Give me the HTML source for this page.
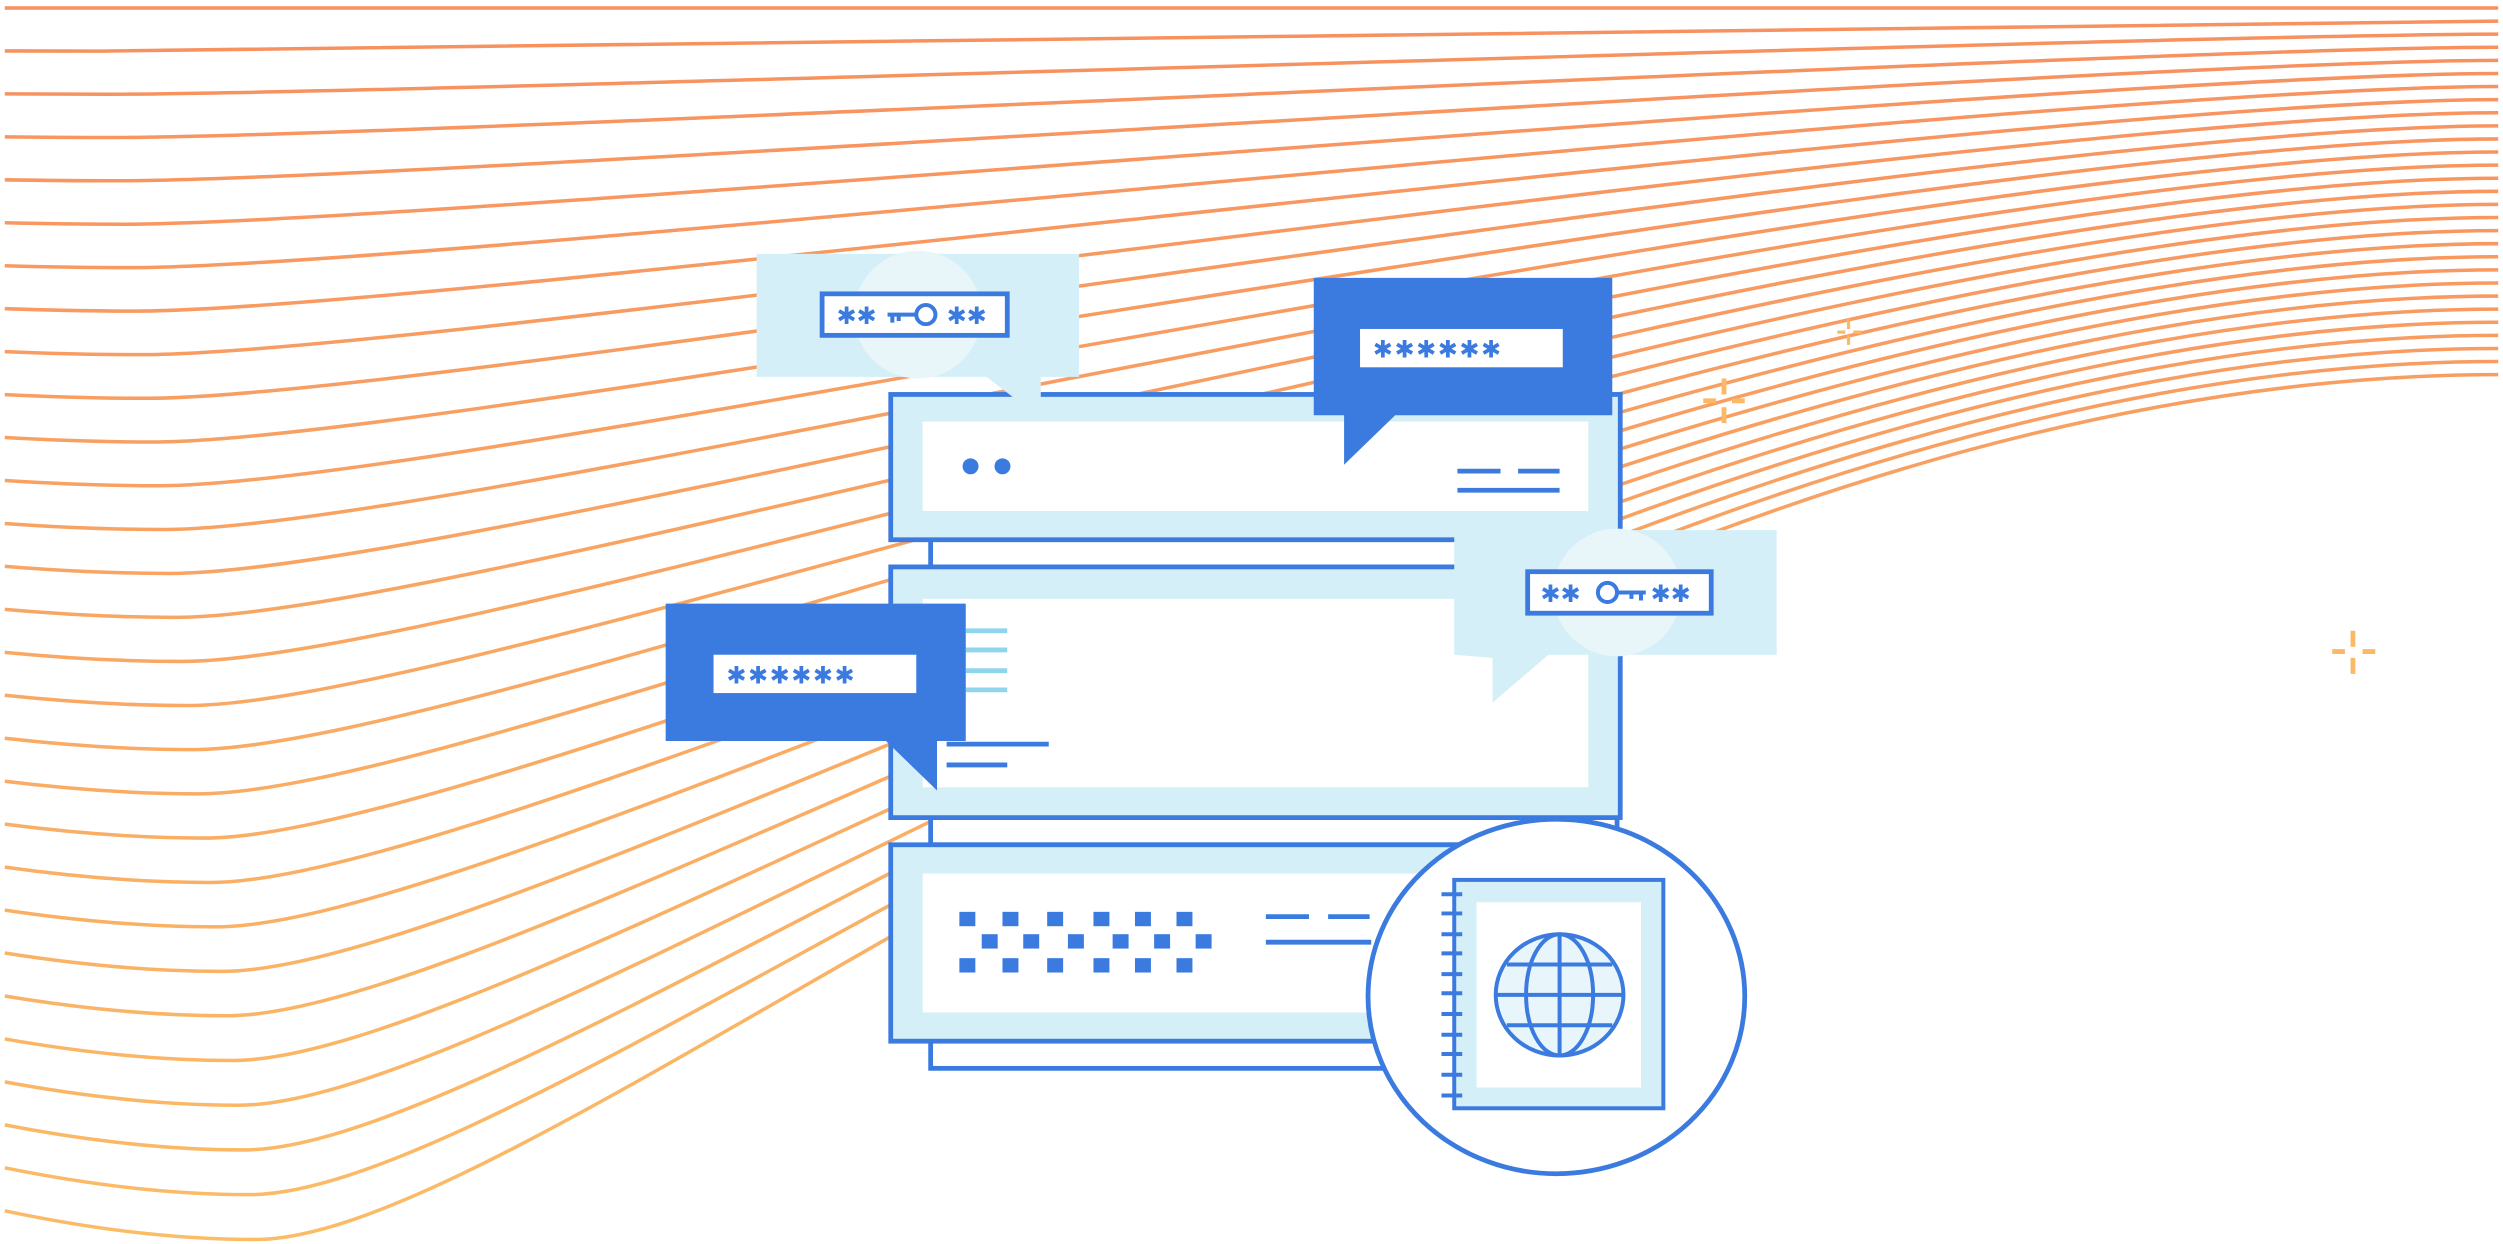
<!DOCTYPE html>
<html><head><meta charset="utf-8">
<style>
html,body{margin:0;padding:0;background:#fff;overflow:hidden}
svg{display:block}
.ast{font-family:"DejaVu Sans",sans-serif;font-weight:bold;fill:#3b7be0;font-size:15px}
</style></head>
<body>
<svg width="2503" height="1244" viewBox="0 0 1568 779" preserveAspectRatio="none" xmlns="http://www.w3.org/2000/svg">
<defs>
<linearGradient id="lg" gradientUnits="userSpaceOnUse" x1="0" y1="0" x2="0" y2="780">
<stop offset="0" stop-color="#f7905f"/><stop offset="1" stop-color="#fbbc66"/>
</linearGradient>
</defs>
<g fill="none" stroke="url(#lg)" stroke-width="2.2">
<path d="M3 5 Q33 5 60 5 C250 5 1400 5 1565 5"/>
<path d="M3 31.9 Q35 32 63.6 32 C253.6 32 1383.9 13.2 1565 13.2"/>
<path d="M3 58.8 Q37 59 67.1 59 C257.1 59 1367.9 21.4 1565 21.4"/>
<path d="M3 85.7 Q39 86.1 70.7 86.1 C260.7 86.1 1351.8 29.6 1565 29.6"/>
<path d="M3 112.6 Q41 113.2 74.3 113.2 C264.3 113.2 1335.7 37.8 1565 37.8"/>
<path d="M3 139.5 Q43 140.4 77.9 140.4 C267.9 140.4 1319.6 46 1565 46"/>
<path d="M3 166.4 Q45 167.6 81.4 167.6 C271.4 167.6 1303.6 54.2 1565 54.2"/>
<path d="M3 193.3 Q47 194.8 85 194.8 C275 194.8 1287.5 62.4 1565 62.4"/>
<path d="M3 220.2 Q49 222.1 88.6 222.1 C278.6 222.1 1271.4 70.6 1565 70.6"/>
<path d="M3 247.1 Q51 249.4 92.1 249.4 C282.1 249.4 1255.4 78.8 1565 78.8"/>
<path d="M3 274 Q53 276.8 95.7 276.8 C285.7 276.8 1239.3 87 1565 87"/>
<path d="M3 300.9 Q55 304.2 99.3 304.2 C289.3 304.2 1223.2 95.2 1565 95.2"/>
<path d="M3 327.8 Q57 331.6 102.9 331.6 C292.9 331.6 1207.1 103.4 1565 103.4"/>
<path d="M3 354.7 Q59 359.1 106.4 359.1 C296.4 359.1 1191.1 111.6 1565 111.6"/>
<path d="M3 381.6 Q60 386.6 110 386.6 C300 386.6 1175 119.8 1565 119.8"/>
<path d="M3 408.5 Q62 414.2 113.6 414.2 C303.6 414.2 1158.9 128 1565 128"/>
<path d="M3 435.4 Q64 441.8 117.1 441.8 C307.1 441.8 1142.9 136.2 1565 136.2"/>
<path d="M3 462.3 Q66 469.4 120.7 469.4 C310.7 469.4 1126.8 144.4 1565 144.4"/>
<path d="M3 489.2 Q68 497.1 124.3 497.1 C314.3 497.1 1110.7 152.6 1565 152.6"/>
<path d="M3 516.1 Q70 524.8 127.9 524.8 C317.9 524.8 1094.6 160.8 1565 160.8"/>
<path d="M3 543 Q72 552.6 131.4 552.6 C321.4 552.6 1078.6 169 1565 169"/>
<path d="M3 569.9 Q74 580.4 135 580.4 C325 580.4 1062.5 177.2 1565 177.2"/>
<path d="M3 596.8 Q76 608.3 138.6 608.3 C328.6 608.3 1046.4 185.4 1565 185.4"/>
<path d="M3 623.7 Q78 636.1 142.1 636.1 C332.1 636.1 1030.4 193.6 1565 193.6"/>
<path d="M3 650.6 Q80 664.1 145.7 664.1 C335.7 664.1 1014.3 201.8 1565 201.8"/>
<path d="M3 677.5 Q82 692.1 149.3 692.1 C339.3 692.1 998.2 210 1565 210"/>
<path d="M3 704.4 Q84 720.1 152.9 720.1 C342.9 720.1 982.1 218.2 1565 218.2"/>
<path d="M3 731.3 Q86 748.1 156.4 748.1 C346.4 748.1 966.1 226.4 1565 226.4"/>
<path d="M3 758.2 Q88 776.2 160 776.2 C350 776.2 950 234.6 1565 234.6"/>
</g>
<!-- sparkles -->
<g stroke="#fbb866" stroke-width="3" fill="none">
<path d="M1080 237v10M1080 255v10M1067 251h8M1085 251h8"/>
<path d="M1474 395v10M1474 412v10M1461 408h8M1480 408h8"/>
<path d="M1158 200v6M1158 210v6M1151 208h5M1161 208h5" stroke-width="2"/>
</g>
<!-- back rects -->
<rect x="583" y="330" width="430" height="25" fill="#fff" stroke="#3b7be0" stroke-width="3"/>
<rect x="583" y="505" width="430" height="24" fill="#fff" stroke="#3b7be0" stroke-width="3"/>
<rect x="583" y="645" width="330" height="24" fill="#fff" stroke="#3b7be0" stroke-width="3"/>
<!-- top panel -->
<rect x="558" y="247" width="457" height="91" fill="#d4eff7" stroke="#3b7be0" stroke-width="3"/>
<rect x="578" y="264" width="417" height="56" fill="#fff"/>
<circle cx="608" cy="292" r="5" fill="#3b7be0"/><circle cx="628" cy="292" r="5" fill="#3b7be0"/>
<g stroke="#3b7be0" stroke-width="3"><path d="M913 295h27M951 295h26M913 307h64"/></g>
<!-- middle panel -->
<rect x="558" y="355" width="457" height="157" fill="#d4eff7" stroke="#3b7be0" stroke-width="3"/>
<rect x="578" y="375" width="417" height="118" fill="#fff"/>
<g stroke="#8fd5ec" stroke-width="3"><path d="M605 395h26M605 407h26M605 420h26M605 432h26"/></g>
<g stroke="#3b7be0" stroke-width="3"><path d="M593 466h64M593 479h38"/></g>
<!-- bottom panel -->
<rect x="558" y="529" width="400" height="123" fill="#d4eff7" stroke="#3b7be0" stroke-width="3"/>
<rect x="578" y="547" width="380" height="87" fill="#fff"/>
<g fill="#3b7be0">
<rect x="601" y="571" width="10" height="9"/><rect x="628" y="571" width="10" height="9"/><rect x="656" y="571" width="10" height="9"/><rect x="685" y="571" width="10" height="9"/><rect x="711" y="571" width="10" height="9"/><rect x="737" y="571" width="10" height="9"/>
<rect x="615" y="585" width="10" height="9"/><rect x="641" y="585" width="10" height="9"/><rect x="669" y="585" width="10" height="9"/><rect x="697" y="585" width="10" height="9"/><rect x="723" y="585" width="10" height="9"/><rect x="749" y="585" width="10" height="9"/>
<rect x="601" y="600" width="10" height="9"/><rect x="628" y="600" width="10" height="9"/><rect x="656" y="600" width="10" height="9"/><rect x="685" y="600" width="10" height="9"/><rect x="711" y="600" width="10" height="9"/><rect x="737" y="600" width="10" height="9"/>
</g>
<g stroke="#3b7be0" stroke-width="3"><path d="M793 574h27M832 574h26M793 590h66"/></g>
<!-- circle passport -->
<ellipse cx="975" cy="624" rx="118" ry="111" fill="#fff" stroke="#3b7be0" stroke-width="3"/>
<rect x="911" y="551" width="131" height="143" fill="#d4eff7" stroke="#3b7be0" stroke-width="2.5"/>
<rect x="925" y="565" width="103" height="116" fill="#fff"/>
<g stroke="#3b7be0" stroke-width="2.5">
<path d="M903 560h13M903 572h13M903 585h13M903 597h13M903 610h13M903 622h13M903 635h13M903 648h13M903 660h13M903 673h13M903 686h13"/>
</g>
<g stroke="#3b7be0" stroke-width="2.5" fill="none">
<ellipse cx="977" cy="623" rx="40" ry="38" fill="#e8f5fb"/>
<ellipse cx="977" cy="623" rx="21" ry="38"/>
<path d="M977 585v76M937 623h80M944 604h66M944 642h66"/>
</g>
<!-- bubble 1 light -->
<path d="M474 159h202v77h-24v26l-34-26h-144z" fill="#d4eff7"/>
<circle cx="575" cy="197" r="40" fill="#e8f6fa"/>
<rect x="515" y="184" width="116" height="26" fill="#fff" stroke="#3b7be0" stroke-width="3"/>
<text x="524" y="203" class="ast">✱✱</text><text x="593" y="203" class="ast">✱✱</text>
<g stroke="#3b7be0" stroke-width="2.5" fill="none"><circle cx="580" cy="197" r="6"/><path d="M556 197h18M559 197v5M563 197v4"/></g>
<!-- bubble 3 light -->
<path d="M911 332h202v78h-143l-35 30v-28l-24-2z" fill="#d4eff7"/>
<circle cx="1013" cy="371" r="40" fill="#e8f6fa"/>
<rect x="957" y="358" width="115" height="26" fill="#fff" stroke="#3b7be0" stroke-width="3"/>
<text x="965" y="377" class="ast">✱✱</text><text x="1034" y="377" class="ast">✱✱</text>
<g stroke="#3b7be0" stroke-width="2.5" fill="none"><circle cx="1007" cy="371" r="6"/><path d="M1013 371h18M1022 371v4M1028 371v5"/></g>
<!-- bubble 2 dark -->
<path d="M823 174h187v86h-136l-32 31v-31h-19z" fill="#3b7be0"/>
<rect x="852" y="206" width="127" height="24" fill="#fff"/>
<text x="860" y="224" class="ast" letter-spacing="1">✱✱✱✱✱✱</text>
<!-- bubble 4 dark -->
<path d="M417 378h188v86h-18v31l-32-31h-138z" fill="#3b7be0"/>
<rect x="447" y="410" width="127" height="24" fill="#fff"/>
<text x="455" y="428" class="ast" letter-spacing="1">✱✱✱✱✱✱</text>
</svg>
</body></html>
